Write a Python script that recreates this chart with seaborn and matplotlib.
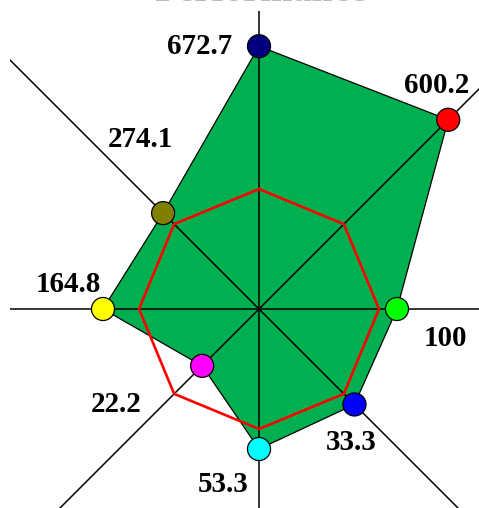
import numpy as np
import pandas as pd
import matplotlib
matplotlib.use("Agg")
import matplotlib.pyplot as plt
import seaborn as sns

# values shown on each spoke, clockwise from the top
labels = ["672.7", "600.2", "100", "33.3", "53.3", "22.2", "164.8", "274.1"]
values = [672.7, 600.2, 100, 33.3, 53.3, 22.2, 164.8, 274.1]
# radial position relative to the reference octagon (reference = 1)
relative = [2.19, 2.23, 1.15, 1.125, 1.167, 0.67, 1.30, 1.13]
reference = [1.0] * 8
point_colors = ["#000080", "#FF0000", "#00FF00", "#0000FF",
                "#00FFFF", "#FF00FF", "#FFFF00", "#808000"]

sns.set_style("white")
plt.rcParams["font.family"] = ["Liberation Serif", "DejaVu Serif"]

n = len(values)
theta = np.deg2rad(90 - 45 * np.arange(n))

df = pd.DataFrame({
    "label": labels,
    "value": values,
    "x": np.array(relative) * np.cos(theta),
    "y": np.array(relative) * np.sin(theta),
})
ref_x = np.array(reference) * np.cos(theta)
ref_y = np.array(reference) * np.sin(theta)

W, H = 479, 508
fig = plt.figure(figsize=(W / 100, H / 100), dpi=100)
# axes is larger than the canvas: the picture is a crop of a bigger chart
ax = fig.add_axes([10 / W, -99 / H, 498 / W, 596 / H])
ax.set_xlim(-249 / 120, 249 / 120)
ax.set_ylim(-298 / 120, 298 / 120)
ax.set_aspect("equal")
ax.axis("off")

# filled data polygon
ax.fill(df["x"], df["y"], facecolor="#00B050", edgecolor="black", lw=0.9, zorder=1)

# spokes
for t in theta:
    ax.plot([0, 6 * np.cos(t)], [0, 6 * np.sin(t)], color="black", lw=1.1, zorder=2)

# reference octagon
ax.plot(np.append(ref_x, ref_x[0]), np.append(ref_y, ref_y[0]),
        color="#FF0000", lw=1.9, zorder=3)

sns.scatterplot(data=df, x="x", y="y", hue="label", palette=point_colors,
                s=275, edgecolor="black", linewidth=0.9, legend=False,
                ax=ax, zorder=4, clip_on=False)

label_offsets = [(-59, 0), (-12, 34), (48, -30), (-3, -38),
                 (-36, -35), (-86, -39), (-35, 25), (-23, 74)]
for i, row in df.iterrows():
    ax.annotate(row["label"], (row["x"], row["y"]), xytext=label_offsets[i],
                textcoords="offset pixels", ha="center", va="center",
                fontsize=20.9, fontweight="bold", color="black", zorder=5)

# title, mostly above the visible area
fig.text(261 / W, 1 - 1 / H, "Performance", ha="center", va="baseline",
         fontsize=27.6, fontweight="bold", color="#BBBBBB")

fig.savefig("out.png", dpi=100)
